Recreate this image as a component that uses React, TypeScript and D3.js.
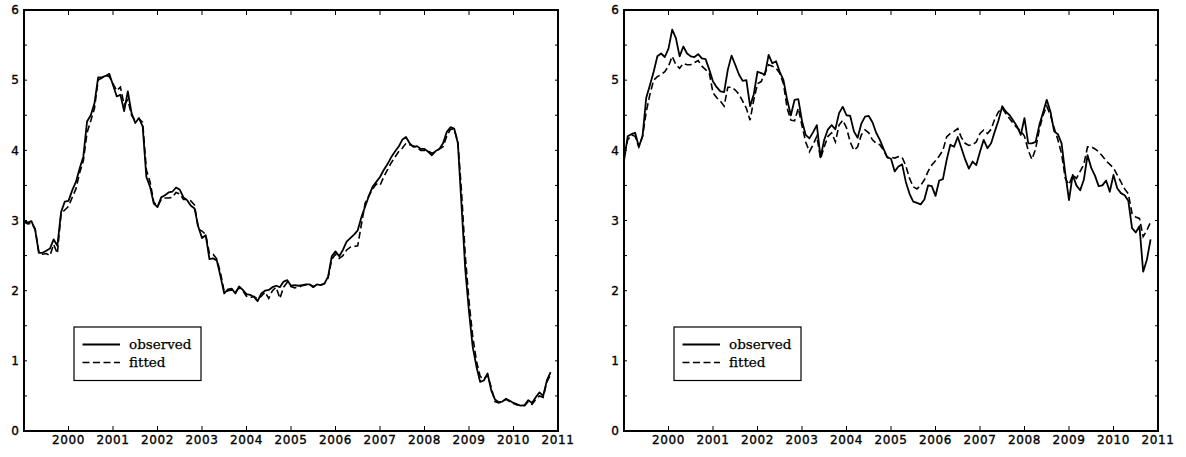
import React from "react";
import * as d3 from "d3";

const startYear = 1999;
const endYear = 2011;
const yearTicks = [2000, 2001, 2002, 2003, 2004, 2005, 2006, 2007, 2008, 2009, 2010, 2011];
const yTicks = [0, 1, 2, 3, 4, 5, 6];
const yMinorTicks = [0.5, 1, 1.5, 2, 2.5, 3, 3.5, 4, 4.5, 5, 5.5];
const legendLabels = ["observed", "fitted"];

const observedLeft = [
  3.0, 2.97, 2.99, 2.87, 2.54, 2.54, 2.57, 2.6, 2.73, 2.64, 3.12, 3.27,
  3.28, 3.43, 3.55, 3.74, 3.91, 4.41, 4.5, 4.67, 5.04, 5.04, 5.06, 5.09,
  4.93, 4.77, 4.79, 4.56, 4.84, 4.53, 4.39, 4.46, 4.34, 3.62, 3.48, 3.24,
  3.19, 3.33, 3.36, 3.4, 3.41, 3.47, 3.44, 3.33, 3.29, 3.21, 3.17, 2.91,
  2.75, 2.79, 2.45, 2.46, 2.43, 2.2, 1.96, 2.02, 2.03, 1.96, 2.06, 2.01,
  1.95, 1.94, 1.91, 1.85, 1.96, 2.0, 2.01, 2.05, 2.07, 2.05, 2.13, 2.15,
  2.07, 2.08, 2.07, 2.08, 2.09, 2.09, 2.05, 2.09, 2.08, 2.1, 2.2, 2.49,
  2.56, 2.49, 2.58, 2.7, 2.75, 2.8, 2.86, 3.05, 3.2, 3.35, 3.48, 3.55,
  3.62, 3.72, 3.8, 3.9, 3.98, 4.05, 4.15, 4.19, 4.1, 4.05, 4.06, 4.02,
  4.02, 3.98, 3.93, 3.99, 4.02, 4.1, 4.26, 4.33, 4.31, 4.1, 3.2, 2.3,
  1.7, 1.2, 0.92, 0.7, 0.72, 0.82, 0.58, 0.45, 0.41, 0.42, 0.46, 0.43,
  0.4, 0.38, 0.36, 0.37, 0.44, 0.4, 0.48, 0.55, 0.5, 0.72, 0.84,
];

const fittedLeft = [
  2.98, 2.95, 2.96, 2.88, 2.55, 2.52, 2.53, 2.5, 2.66, 2.53, 3.1, 3.15,
  3.2, 3.33, 3.45, 3.68, 3.85, 4.25, 4.42, 4.6, 5.0, 5.03, 5.07, 5.05,
  4.95, 4.85, 4.9, 4.65, 4.72, 4.5, 4.42, 4.45, 4.4, 3.72, 3.55, 3.26,
  3.2, 3.3, 3.32, 3.32, 3.33, 3.4, 3.38, 3.3, 3.3, 3.28, 3.22, 2.88,
  2.85, 2.8, 2.53, 2.52, 2.45, 2.25, 1.98, 2.0, 2.01, 1.98, 2.04, 2.0,
  1.92, 1.9, 1.92, 1.88, 1.92, 1.98, 1.89, 2.0, 2.05, 1.89, 2.05, 2.12,
  2.06, 2.04, 2.05, 2.07, 2.08, 2.09, 2.06, 2.08, 2.08, 2.1, 2.18, 2.45,
  2.52, 2.46, 2.5, 2.58, 2.62, 2.63, 2.64, 2.95, 3.25, 3.35, 3.45, 3.52,
  3.5, 3.62, 3.72, 3.82, 3.9, 3.98, 4.03, 4.1, 4.08, 4.06, 4.04, 4.0,
  4.0, 3.99, 3.96, 3.98, 4.02, 4.05, 4.2, 4.3, 4.3, 4.12, 3.4, 2.5,
  1.85, 1.35, 1.0, 0.78, 0.74, 0.8, 0.62, 0.42, 0.4, 0.42, 0.45, 0.42,
  0.39, 0.37, 0.36, 0.36, 0.42, 0.38, 0.45, 0.5, 0.48, 0.7, 0.8,
];

const observedRight = [
  3.85, 4.2, 4.23, 4.25, 4.05, 4.2, 4.75, 4.93, 5.12, 5.34, 5.38, 5.33,
  5.45, 5.72, 5.6, 5.34, 5.48, 5.38, 5.34, 5.33, 5.37, 5.31, 5.3, 5.15,
  4.98, 4.9, 4.84, 4.83, 5.15, 5.35, 5.22, 5.08, 4.99, 5.0, 4.63, 4.8,
  5.12, 5.1, 5.08, 5.36, 5.24, 5.27, 5.12, 5.0, 4.72, 4.5, 4.72, 4.73,
  4.42, 4.22, 4.17, 4.26, 4.36, 3.9, 4.15, 4.3, 4.36, 4.3, 4.53, 4.62,
  4.5, 4.49, 4.27, 4.18, 4.38, 4.48, 4.49, 4.4, 4.25, 4.15, 4.02, 3.9,
  3.88, 3.7, 3.77, 3.8, 3.55, 3.38, 3.27, 3.25, 3.23, 3.3, 3.5, 3.49,
  3.35, 3.57, 3.59, 3.86, 4.08, 4.05, 4.19, 4.03, 3.87, 3.74, 3.84, 3.79,
  3.98, 4.15, 4.03, 4.1, 4.27, 4.43, 4.63, 4.55, 4.5, 4.42, 4.34, 4.22,
  4.46, 4.1, 4.1, 4.12, 4.36, 4.54, 4.72, 4.55, 4.27, 4.23, 4.1, 3.67,
  3.29, 3.65, 3.5, 3.43, 3.58, 3.93, 3.75, 3.64, 3.49, 3.5, 3.57, 3.41,
  3.65, 3.46, 3.39, 3.36, 3.28, 2.89, 2.83, 2.92, 2.27, 2.44, 2.73,
];

const fittedRight = [
  3.95, 4.15, 4.22, 4.2, 4.05, 4.2, 4.55, 4.8, 5.0, 5.05, 5.08, 5.12,
  5.2, 5.34, 5.22, 5.17, 5.24, 5.22, 5.22, 5.25, 5.28, 5.2, 5.15, 5.1,
  4.82, 4.75, 4.7, 4.63, 4.9, 4.9, 4.86, 4.8, 4.7, 4.6, 4.43, 4.72,
  4.95, 4.98, 5.1, 5.22, 5.2, 5.17, 5.1, 4.95, 4.6, 4.43, 4.42, 4.6,
  4.35, 4.12, 3.98, 4.08, 4.2, 3.88, 4.05, 4.2, 4.25, 4.12, 4.36, 4.43,
  4.32, 4.12, 4.0, 4.05, 4.22, 4.29, 4.25, 4.15, 4.1, 4.08, 4.0, 3.9,
  3.9, 3.89, 3.91, 3.9, 3.78, 3.6, 3.48, 3.45, 3.5, 3.58, 3.7, 3.79,
  3.85, 3.92, 4.0, 4.19, 4.24, 4.27, 4.31, 4.18, 4.1, 4.07, 4.08, 4.12,
  4.24, 4.29, 4.24, 4.3, 4.45, 4.55, 4.6, 4.52, 4.45, 4.38, 4.32, 4.28,
  4.2, 4.0, 3.87, 4.02, 4.3, 4.5, 4.63, 4.5, 4.32, 4.15, 3.95, 3.6,
  3.51, 3.65, 3.6, 3.7, 3.8, 4.05, 4.05, 4.02, 3.98, 3.92, 3.85, 3.8,
  3.75, 3.65, 3.55, 3.45, 3.38, 3.1, 3.05, 3.03, 2.77, 2.86, 2.98,
];

const W = 1186;
const H = 457;
const TOP = 10;
const BOTTOM = 431;
const PANEL_W = 534;
const DASH = "7,3.5";
const tickFont = "'DejaVu Sans', sans-serif";
const legendFont = "'DejaVu Serif', serif";

function Panel({ left, observed, fitted }: { left: number; observed: number[]; fitted: number[] }) {
  const x = d3.scaleLinear().domain([startYear, endYear]).range([left, left + PANEL_W]);
  const y = d3.scaleLinear().domain([0, 6]).range([BOTTOM, TOP]);
  const t = (i: number) => startYear + i / 12;
  const line = d3
    .line<number>()
    .x((_, i) => x(t(i)))
    .y((d) => y(d));
  const right = left + PANEL_W;
  const lx = left + 50;
  return (
    <g>
      <path d={line(fitted) || ""} fill="none" stroke="#000" strokeWidth={1.6} strokeDasharray={DASH} />
      <path d={line(observed) || ""} fill="none" stroke="#000" strokeWidth={1.8} strokeLinejoin="round" />
      <rect x={left} y={TOP} width={PANEL_W} height={BOTTOM - TOP} fill="none" stroke="#000" strokeWidth={2} />
      {yearTicks.slice(0, -1).map((yr) => (
        <g key={"xt" + yr}>
          <line x1={x(yr)} x2={x(yr)} y1={BOTTOM} y2={BOTTOM - 5} stroke="#000" strokeWidth={1} />
          <line x1={x(yr)} x2={x(yr)} y1={TOP} y2={TOP + 5} stroke="#000" strokeWidth={1} />
        </g>
      ))}
      {yearTicks.map((yr) => (
        <text key={"xl" + yr} x={x(yr)} y={444} textAnchor="middle" fontFamily={tickFont} fontSize={12} letterSpacing={0.6} fill="#000" stroke="#000" strokeWidth={0.35}>
          {yr}
        </text>
      ))}
      {yMinorTicks.map((v) => (
        <g key={"yt" + v}>
          <line x1={left} x2={left + 3} y1={y(v)} y2={y(v)} stroke="#000" strokeWidth={1} />
          <line x1={right} x2={right - 3} y1={y(v)} y2={y(v)} stroke="#000" strokeWidth={1} />
        </g>
      ))}
      {yTicks.map((v) => (
        <text key={"yl" + v} x={left - 9} y={y(v)} dy="0.36em" textAnchor="middle" fontFamily={tickFont} fontSize={12} fill="#000" stroke="#000" strokeWidth={0.35}>
          {v}
        </text>
      ))}
      <rect x={lx} y={327} width={127} height={53.5} fill="#fff" stroke="#000" strokeWidth={1.2} />
      <line x1={lx + 8.5} x2={lx + 46} y1={344.5} y2={344.5} stroke="#000" strokeWidth={1.9} />
      <line x1={lx + 8.5} x2={lx + 46} y1={362.5} y2={362.5} stroke="#000" strokeWidth={1.7} strokeDasharray={DASH} />
      <text x={lx + 55} y={349} fontFamily={legendFont} fontSize={13.5} fill="#000" stroke="#000" strokeWidth={0.25}>
        {legendLabels[0]}
      </text>
      <text x={lx + 55} y={366.5} fontFamily={legendFont} fontSize={13.5} fill="#000" stroke="#000" strokeWidth={0.25}>
        {legendLabels[1]}
      </text>
    </g>
  );
}

export default function App() {
  return (
    <svg width={W} height={H} style={{ position: "absolute", left: 0, top: 0, background: "#fff" }}>
      <rect width={W} height={H} fill="#fff" />
      <Panel left={24} observed={observedLeft} fitted={fittedLeft} />
      <Panel left={624} observed={observedRight} fitted={fittedRight} />
    </svg>
  );
}
